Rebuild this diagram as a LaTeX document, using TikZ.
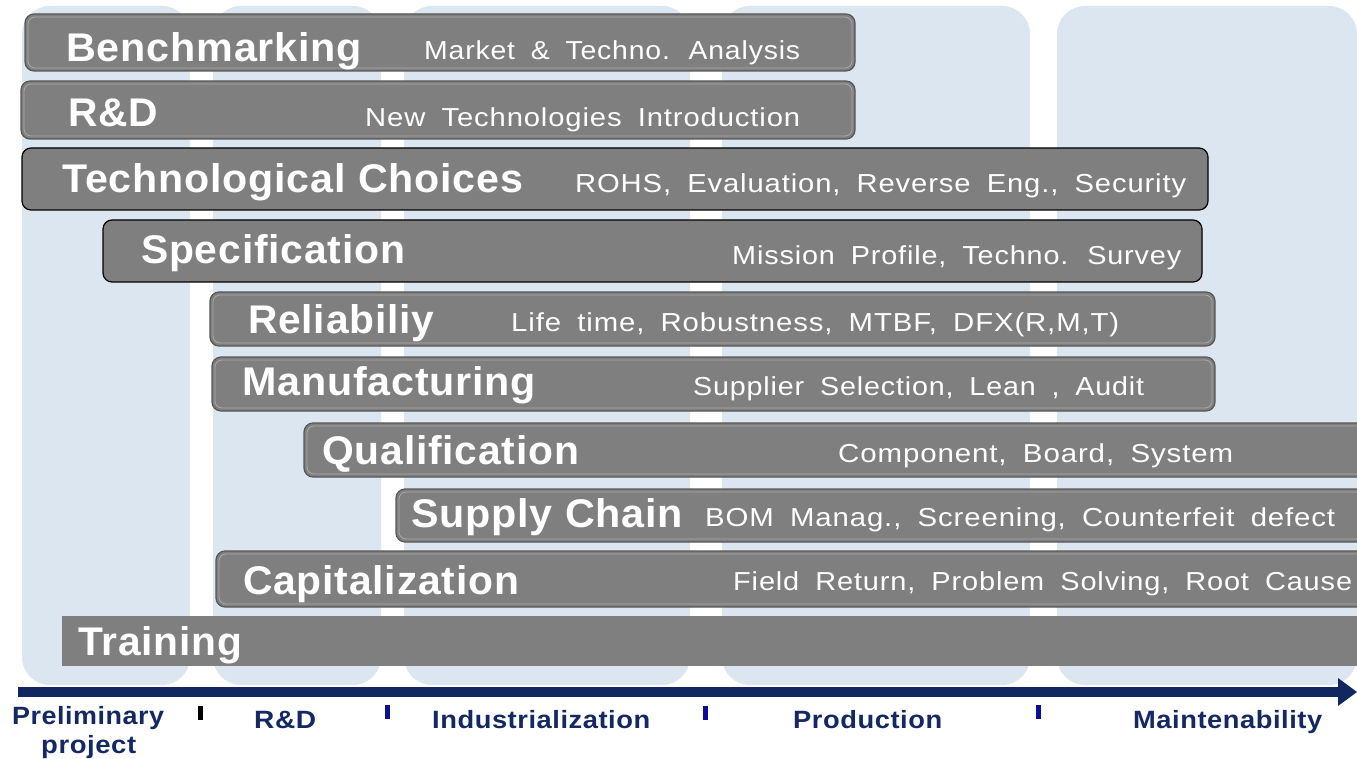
\documentclass[tikz,border=0pt]{standalone}
\usepackage{fontspec}
\usepackage{graphicx}
\setmainfont{Liberation Sans}
\newfontfamily\titlefont{Liberation Sans}[LetterSpace=2,WordSpace=1.3]
\newfontfamily\subfont{Liberation Sans}[LetterSpace=3,WordSpace=1.8]
\newfontfamily\axisfont{Liberation Sans}[LetterSpace=2]
\newlength\fitlen
\newcommand\fitw[2]{\settowidth\fitlen{#2}\pgfmathsetmacro\fitratio{#1/\fitlen}\scalebox{\fitratio}[1]{#2}}
\definecolor{colbg}{RGB}{220,230,241}
\definecolor{barg}{RGB}{127,127,127}
\definecolor{bard}{RGB}{88,88,88}
\definecolor{barhi}{RGB}{170,170,170}
\definecolor{navy}{RGB}{16,40,95}
\definecolor{axtext}{RGB}{20,40,100}
\definecolor{tickblue}{RGB}{12,12,150}
\tikzset{
  column/.style={fill=colbg, rounded corners=28pt},
  bar/.style={fill=barg, draw=bard, line width=1.2pt, rounded corners=9pt},
  barblk/.style={bar, draw=black},
  barhl/.style={draw=barhi, line width=0.8pt, rounded corners=7pt},
  ttl/.style={anchor=base west, inner sep=0pt, text=white, font=\titlefont\bfseries\fontsize{40}{42}\selectfont},
  sub/.style={anchor=base west, inner sep=0pt, text=white, font=\subfont\fontsize{26}{28}\selectfont},
  axl/.style={anchor=base west, inner sep=0pt, text=axtext, font=\axisfont\bfseries\fontsize{25}{27}\selectfont},
  tickmark/.style={fill=tickblue},
}
\begin{document}
\begin{tikzpicture}[x=1pt,y=-1pt]
\useasboundingbox (0,0) rectangle (1357,759);
\clip (0,0) rectangle (1357,759);
\fill[white] (0,0) rectangle (1357,759);
% phase columns
\fill[column] (22,6) rectangle (190,685);
\fill[column] (213,6) rectangle (381,685);
\fill[column] (404,6) rectangle (690,685);
\fill[column] (722,6) rectangle (1030,685);
\fill[column] (1057,6) rectangle (1357,685);
% bars
\path[bar] (25,14) rectangle (855,71);
\path[barhl] (28,17) rectangle (852,68);
\path[bar] (21,81) rectangle (855,139);
\path[barhl] (24,84) rectangle (852,136);
\path[barblk] (22,148) rectangle (1208,210);
\path[barblk] (103,220) rectangle (1202,282);
\path[bar] (210,292) rectangle (1215,346);
\path[barhl] (213,295) rectangle (1212,343);
\path[bar] (212,357) rectangle (1215,411);
\path[barhl] (215,360) rectangle (1212,408);
\path[bar] (304,423) rectangle (1375,477);
\path[barhl] (307,426) rectangle (1372,474);
\path[bar] (396,489) rectangle (1375,542);
\path[barhl] (399,492) rectangle (1372,539);
\path[bar] (216,551) rectangle (1375,607);
\path[barhl] (219,554) rectangle (1372,604);
\fill[barg] (62,616) rectangle (1375,666);
% titles
\node[ttl] (tBench) at (66,62) {\fitw{296}{Benchmarking}};
\node[ttl] (tRD) at (68,127) {\fitw{90}{R\&D}};
\node[ttl] (tTech) at (62,193) {\fitw{461}{Technological Choices}};
\node[ttl] (tSpec) at (141,264) {\fitw{264}{Specification}};
\node[ttl] (tRel) at (248,333) {\fitw{186}{Reliabiliy}};
\node[ttl] (tMan) at (242,395) {\fitw{294}{Manufacturing}};
\node[ttl] (tQual) at (322,464) {\fitw{257}{Qualification}};
\node[ttl] (tSup) at (411,527) {\fitw{272}{Supply Chain}};
\node[ttl] (tCap) at (243,594) {\fitw{276}{Capitalization}};
\node[ttl] (tTrain) at (78,655) {\fitw{164}{Training}};
% subtitles
\node[sub] (sBench) at (424,60) {\fitw{376}{Market \& Techno. Analysis}};
\node[sub] (sRD) at (365,127) {\fitw{435}{New Technologies Introduction}};
\node[sub] (sTech) at (575,193) {\fitw{611}{ROHS, Evaluation, Reverse Eng., Security}};
\node[sub] (sSpec) at (732,265) {\fitw{449}{Mission Profile, Techno. Survey}};
\node[sub] (sRel) at (511,331) {\fitw{608}{Life time, Robustness, MTBF, DFX(R,M,T)}};
\node[sub] (sMan) at (693,395) {\fitw{451}{Supplier Selection, Lean , Audit}};
\node[sub] (sQual) at (838,462) {\fitw{395}{Component, Board, System}};
\node[sub] (sSup) at (705,526) {\fitw{630}{BOM Manag., Screening, Counterfeit defect}};
\node[sub] (sCap) at (733,590) {\fitw{619}{Field Return, Problem Solving, Root Cause}};
% time axis
\coordinate (axA) at (18,692);
\coordinate (axB) at (1341,692);
\coordinate (axTip) at (1357,692);
\draw[navy, line width=10pt] (axA) -- (axB);
\fill[navy] (1338,678) -- (axTip) -- (1338,706) -- cycle;
\fill[black] (198,706) rectangle (203,720);
\fill[tickmark] (385,705) rectangle (390,719);
\fill[tickmark] (703,706) rectangle (708,720);
\fill[tickmark] (1036,705) rectangle (1041,719);
% phase labels
\node[axl] (lPre) at (12,724) {\fitw{152}{Preliminary}};
\node[axl] (lProj) at (41,753) {\fitw{95}{project}};
\node[axl] (lRD) at (254,728) {\fitw{62}{R\&D}};
\node[axl] (lInd) at (432,728) {\fitw{218}{Industrialization}};
\node[axl] (lProd) at (793,728) {\fitw{149}{Production}};
\node[axl] (lMain) at (1133,728) {\fitw{189}{Maintenability}};
\end{tikzpicture}
\end{document}
